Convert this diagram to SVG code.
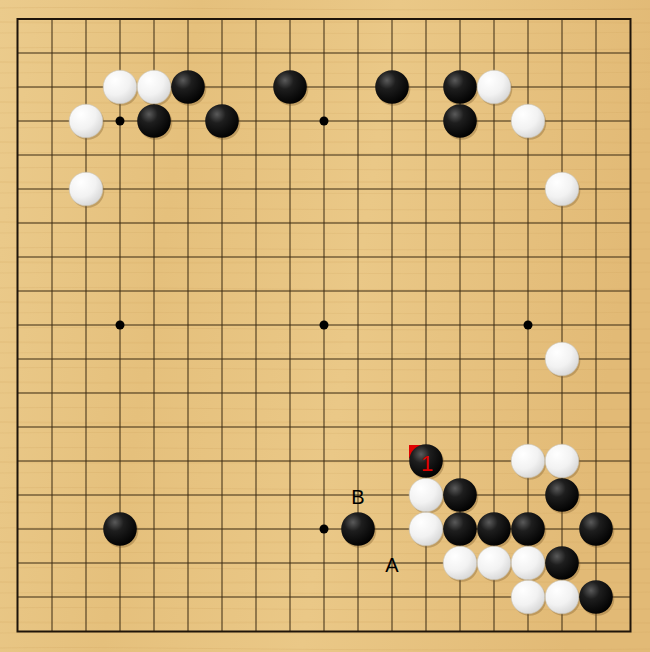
<svg xmlns="http://www.w3.org/2000/svg" width="650" height="652" viewBox="0 0 650 652">
<style>
.grid line{stroke:#3b2a12;stroke-width:1}
.star{fill:#000}
.shadow{fill:#6b4a1a;opacity:0.3}
.b{fill:url(#gb)}
.w{fill:url(#gw);stroke:#c9c2b4;stroke-width:0.6}
.lbl{font-family:"Liberation Sans",Arial,sans-serif;font-size:20px;text-anchor:middle}
</style>
<defs>
<linearGradient id="wood" x1="0" y1="0" x2="1" y2="0.15">
<stop offset="0" stop-color="#ebcb8c"/>
<stop offset="0.3" stop-color="#e5c07c"/>
<stop offset="0.6" stop-color="#eac887"/>
<stop offset="1" stop-color="#e2ba76"/>
</linearGradient>
<pattern id="grain" width="650" height="40" patternUnits="userSpaceOnUse">
<rect width="650" height="40" fill="none"/>
<path d="M0 8 C150 6 300 12 650 9" stroke="#c99a55" stroke-width="1" opacity="0.22" fill="none"/>
<path d="M0 22 C200 25 400 19 650 23" stroke="#d1a561" stroke-width="2" opacity="0.18" fill="none"/>
<path d="M0 33 C180 31 420 36 650 32" stroke="#c99a55" stroke-width="1" opacity="0.18" fill="none"/>
</pattern>
<radialGradient id="gb" cx="0.35" cy="0.3" r="0.75">
<stop offset="0" stop-color="#5a5a5a"/>
<stop offset="0.35" stop-color="#1e1e1e"/>
<stop offset="1" stop-color="#000"/>
</radialGradient>
<radialGradient id="gw" cx="0.35" cy="0.3" r="0.8">
<stop offset="0" stop-color="#ffffff"/>
<stop offset="0.55" stop-color="#f2f2f2"/>
<stop offset="1" stop-color="#d2d2d2"/>
</radialGradient>
<g id="B"><circle cx="1.5" cy="2" r="16.8" class="shadow"/><circle r="16.8" class="b"/></g>
<g id="W"><circle cx="1.5" cy="2" r="16.8" class="shadow"/><circle r="16.8" class="w"/></g>
</defs>
<rect width="650" height="652" fill="url(#wood)"/>
<rect width="650" height="652" fill="url(#grain)"/>
<g id="grid" class="grid">
<line x1="18" y1="53" x2="630" y2="53"/><line x1="18" y1="87" x2="630" y2="87"/><line x1="18" y1="121" x2="630" y2="121"/><line x1="18" y1="155" x2="630" y2="155"/><line x1="18" y1="189" x2="630" y2="189"/><line x1="18" y1="223" x2="630" y2="223"/><line x1="18" y1="257" x2="630" y2="257"/><line x1="18" y1="291" x2="630" y2="291"/><line x1="18" y1="325" x2="630" y2="325"/><line x1="18" y1="359" x2="630" y2="359"/><line x1="18" y1="393" x2="630" y2="393"/><line x1="18" y1="427" x2="630" y2="427"/><line x1="18" y1="461" x2="630" y2="461"/><line x1="18" y1="495" x2="630" y2="495"/><line x1="18" y1="529" x2="630" y2="529"/><line x1="18" y1="563" x2="630" y2="563"/><line x1="18" y1="597" x2="630" y2="597"/>
<line x1="52" y1="19" x2="52" y2="631"/><line x1="86" y1="19" x2="86" y2="631"/><line x1="120" y1="19" x2="120" y2="631"/><line x1="154" y1="19" x2="154" y2="631"/><line x1="188" y1="19" x2="188" y2="631"/><line x1="222" y1="19" x2="222" y2="631"/><line x1="256" y1="19" x2="256" y2="631"/><line x1="290" y1="19" x2="290" y2="631"/><line x1="324" y1="19" x2="324" y2="631"/><line x1="358" y1="19" x2="358" y2="631"/><line x1="392" y1="19" x2="392" y2="631"/><line x1="426" y1="19" x2="426" y2="631"/><line x1="460" y1="19" x2="460" y2="631"/><line x1="494" y1="19" x2="494" y2="631"/><line x1="528" y1="19" x2="528" y2="631"/><line x1="562" y1="19" x2="562" y2="631"/><line x1="596" y1="19" x2="596" y2="631"/>
<rect x="17.5" y="19" width="613" height="612.5" fill="none" stroke="#1f150a" stroke-width="2"/>
</g>
<g id="stars">
<circle class="star" cx="120" cy="121" r="4.5"/><circle class="star" cx="324" cy="121" r="4.5"/><circle class="star" cx="528" cy="121" r="4.5"/>
<circle class="star" cx="120" cy="325" r="4.5"/><circle class="star" cx="324" cy="325" r="4.5"/><circle class="star" cx="528" cy="325" r="4.5"/>
<circle class="star" cx="120" cy="529" r="4.5"/><circle class="star" cx="324" cy="529" r="4.5"/><circle class="star" cx="528" cy="529" r="4.5"/>
</g>
<g id="stones">
<use href="#W" x="120" y="87"/><use href="#W" x="154" y="87"/><use href="#B" x="188" y="87"/><use href="#B" x="290" y="87"/><use href="#B" x="392" y="87"/><use href="#B" x="460" y="87"/><use href="#W" x="494" y="87"/>
<use href="#W" x="86" y="121"/><use href="#B" x="154" y="121"/><use href="#B" x="222" y="121"/><use href="#B" x="460" y="121"/><use href="#W" x="528" y="121"/>
<use href="#W" x="86" y="189"/><use href="#W" x="562" y="189"/>
<use href="#W" x="562" y="359"/>
<polygon points="409,445 423,445 409,459" fill="#e00000"/>
<use href="#B" x="426" y="461"/><use href="#W" x="528" y="461"/><use href="#W" x="562" y="461"/>
<use href="#W" x="426" y="495"/><use href="#B" x="460" y="495"/><use href="#B" x="562" y="495"/>
<use href="#B" x="120" y="529"/><use href="#B" x="358" y="529"/><use href="#W" x="426" y="529"/><use href="#B" x="460" y="529"/><use href="#B" x="494" y="529"/><use href="#B" x="528" y="529"/><use href="#B" x="596" y="529"/>
<use href="#W" x="460" y="563"/><use href="#W" x="494" y="563"/><use href="#W" x="528" y="563"/><use href="#B" x="562" y="563"/>
<use href="#W" x="528" y="597"/><use href="#W" x="562" y="597"/><use href="#B" x="596" y="597"/>
</g>
<g id="labels">
<text class="lbl" x="427" y="471" fill="#e00000" style="font-size:22px">1</text>
<text class="lbl" x="358" y="504" fill="#000">B</text>
<text class="lbl" x="392" y="572" fill="#000">A</text>
</g>
</svg>
